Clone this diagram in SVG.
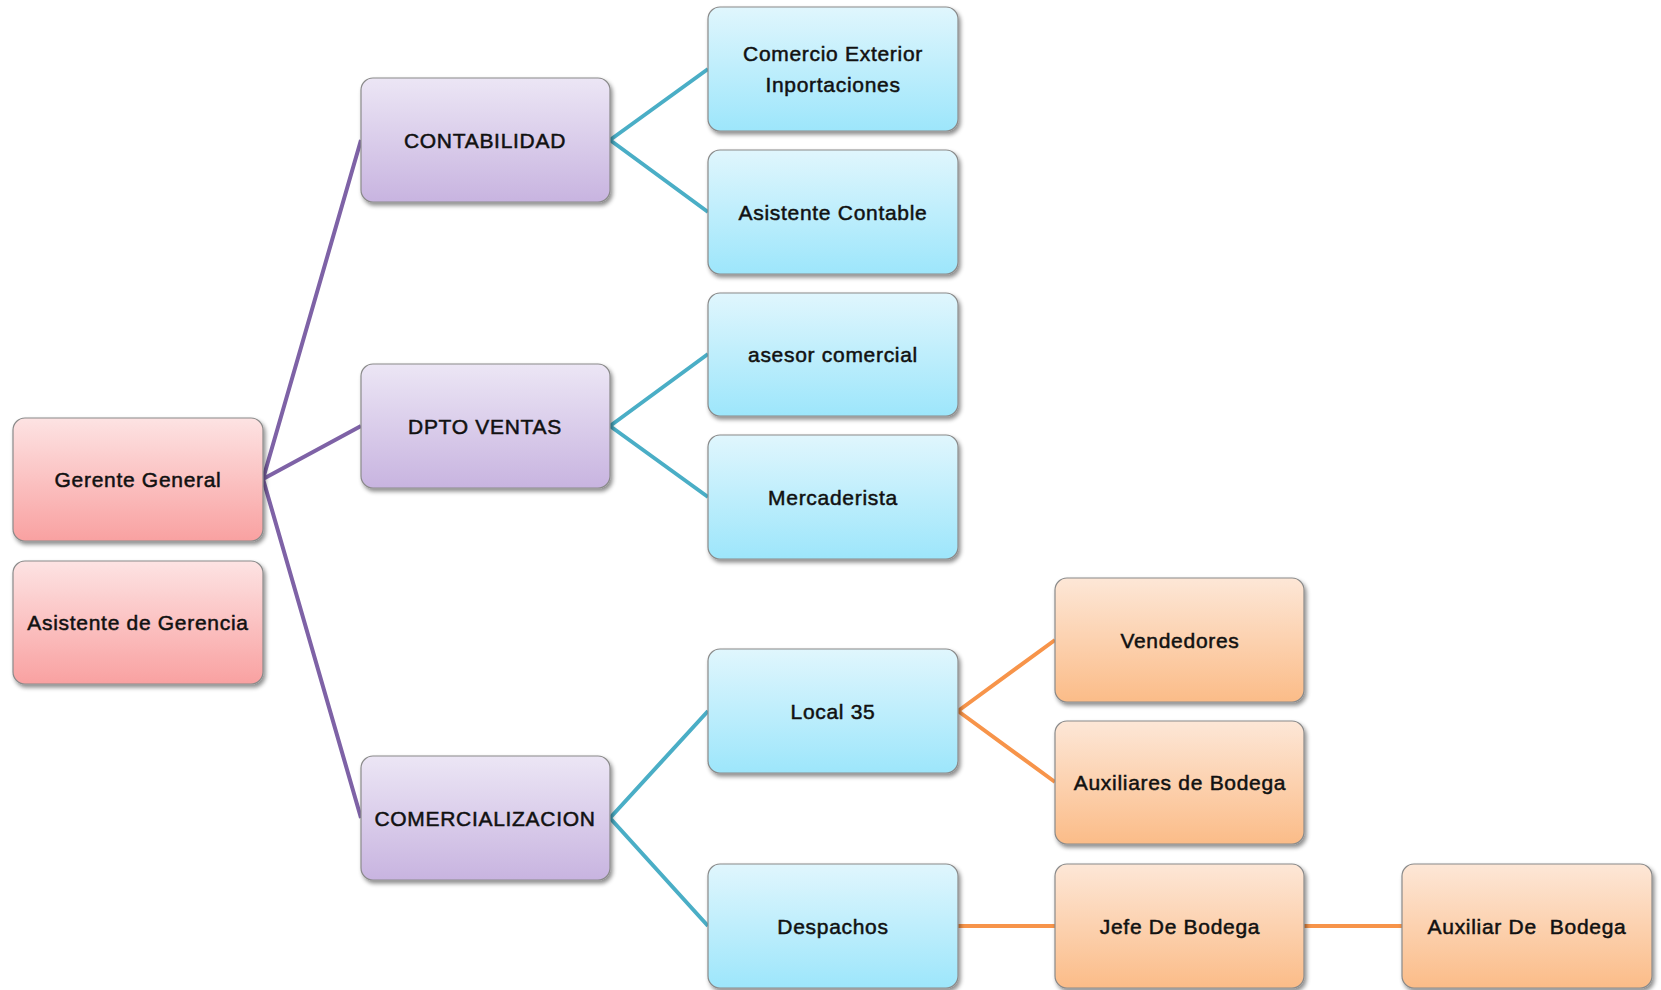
<svg xmlns="http://www.w3.org/2000/svg" width="1661" height="990" viewBox="0 0 1661 990">
<defs>
<linearGradient id="gPink" x1="0" y1="0" x2="0" y2="1"><stop offset="0" stop-color="#fde3e3"/><stop offset="1" stop-color="#f9a1a1"/></linearGradient>
<linearGradient id="gPurple" x1="0" y1="0" x2="0" y2="1"><stop offset="0" stop-color="#ece6f5"/><stop offset="1" stop-color="#c8b4e0"/></linearGradient>
<linearGradient id="gBlue" x1="0" y1="0" x2="0" y2="1"><stop offset="0" stop-color="#e0f6fd"/><stop offset="1" stop-color="#9de6fb"/></linearGradient>
<linearGradient id="gOrange" x1="0" y1="0" x2="0" y2="1"><stop offset="0" stop-color="#fde7d7"/><stop offset="1" stop-color="#fbbc88"/></linearGradient>
<filter id="sh" x="-10%" y="-10%" width="125%" height="130%"><feDropShadow dx="2" dy="3" stdDeviation="2" flood-color="#000" flood-opacity="0.45"/></filter>
</defs>
<style>
.box{stroke:#8a8a8a;stroke-width:1.2;filter:url(#sh)}
.pink{fill:url(#gPink)}.purple{fill:url(#gPurple)}.blue{fill:url(#gBlue)}.orange{fill:url(#gOrange)}
text{font-family:"Liberation Sans",Arial,sans-serif;font-size:21px;letter-spacing:0.7px;fill:#111;stroke:#111;stroke-width:0.5;text-anchor:middle;white-space:pre}
.cp{stroke:#7e62a6;stroke-width:4;fill:none}
.ct{stroke:#4aaec6;stroke-width:4;fill:none}
.co{stroke:#f7944a;stroke-width:4;fill:none}
</style>
<rect width="1661" height="990" fill="#fff"/>
<g id="connectors">
<path class="cp" d="M263 479 L361 140 M263 479 L361 426 M263 479 L361 818"/>
<path class="ct" d="M610 140 L708 69 M610 140 L708 212 M610 426 L708 354 M610 426 L708 497 M610 818 L708 711 M610 818 L708 926"/>
<path class="co" d="M958 711 L1055 640 M958 711 L1055 782 M958 926 L1055 926 M1304 926 L1402 926"/>
</g>
<g id="gerente"><rect class="box pink" x="13" y="418" width="250" height="123" rx="12"/><text x="138" y="487">Gerente General</text></g>
<g id="asistente-gerencia"><rect class="box pink" x="13" y="561" width="250" height="123" rx="12"/><text x="138" y="630">Asistente de Gerencia</text></g>
<g id="contabilidad"><rect class="box purple" x="361" y="78" width="249" height="124" rx="12"/><text x="485" y="148">CONTABILIDAD</text></g>
<g id="dpto-ventas"><rect class="box purple" x="361" y="364" width="249" height="124" rx="12"/><text x="485" y="434">DPTO VENTAS</text></g>
<g id="comercializacion"><rect class="box purple" x="361" y="756" width="249" height="124" rx="12"/><text x="485" y="826">COMERCIALIZACION</text></g>
<g id="comercio-exterior"><rect class="box blue" x="708" y="7" width="250" height="124" rx="12"/><text x="833" y="61">Comercio Exterior</text><text x="833" y="92">Inportaciones</text></g>
<g id="asistente-contable"><rect class="box blue" x="708" y="150" width="250" height="124" rx="12"/><text x="833" y="220">Asistente Contable</text></g>
<g id="asesor-comercial"><rect class="box blue" x="708" y="293" width="250" height="123" rx="12"/><text x="833" y="362">asesor comercial</text></g>
<g id="mercaderista"><rect class="box blue" x="708" y="435" width="250" height="124" rx="12"/><text x="833" y="505">Mercaderista</text></g>
<g id="local35"><rect class="box blue" x="708" y="649" width="250" height="124" rx="12"/><text x="833" y="719">Local 35</text></g>
<g id="despachos"><rect class="box blue" x="708" y="864" width="250" height="124" rx="12"/><text x="833" y="934">Despachos</text></g>
<g id="vendedores"><rect class="box orange" x="1055" y="578" width="249" height="124" rx="12"/><text x="1180" y="648">Vendedores</text></g>
<g id="auxiliares-bodega"><rect class="box orange" x="1055" y="721" width="249" height="123" rx="12"/><text x="1180" y="790">Auxiliares de Bodega</text></g>
<g id="jefe-bodega"><rect class="box orange" x="1055" y="864" width="249" height="124" rx="12"/><text x="1180" y="934">Jefe De Bodega</text></g>
<g id="auxiliar-bodega"><rect class="box orange" x="1402" y="864" width="250" height="124" rx="12"/><text x="1527" y="934">Auxiliar De  Bodega</text></g>
</svg>
